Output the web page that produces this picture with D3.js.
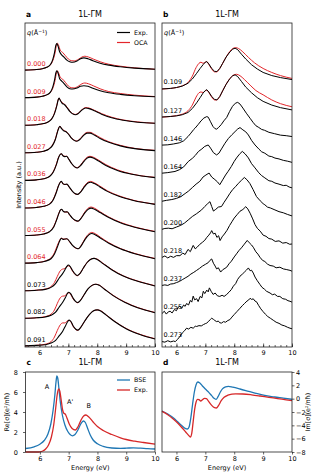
<!DOCTYPE html>
<html>
<head>
<meta charset="utf-8">
<script src="https://cdn.jsdelivr.net/npm/d3@7"></script>
<style>
  body { margin: 0; background: #fff; }
  text { font-family: "DejaVu Sans", sans-serif; fill: #000; }
</style>
</head>
<body>
<svg id="fig" width="317" height="476"></svg>
<script>
// ---- panel a : q labels, experiment and OCA spectra (offset units, 1 = one step) ----
const qA = ['0.000', '0.009', '0.018', '0.027', '0.036', '0.046', '0.055', '0.064', '0.073', '0.082', '0.091'];
const qARed = [true, true, true, true, true, true, true, true, false, false, false];

const expA = [
  [[5.5,0],[5.9,0.02],[6.1,0.05],[6.25,0.1],[6.38,0.2],[6.46,0.38],[6.52,0.62],[6.57,0.9],[6.6,0.96],[6.64,0.88],[6.7,0.66],[6.76,0.56],[6.85,0.47],[6.95,0.36],[7.05,0.3],[7.15,0.28],[7.3,0.33],[7.42,0.41],[7.54,0.44],[7.68,0.41],[7.85,0.34],[8.1,0.25],[8.4,0.18],[8.8,0.12],[9.3,0.07],[10,0.03]],
  [[5.5,0],[5.9,0.02],[6.1,0.05],[6.25,0.1],[6.38,0.2],[6.46,0.38],[6.52,0.62],[6.57,0.9],[6.6,0.97],[6.64,0.9],[6.7,0.68],[6.77,0.6],[6.86,0.5],[6.96,0.38],[7.05,0.32],[7.15,0.31],[7.3,0.35],[7.42,0.41],[7.54,0.43],[7.68,0.41],[7.85,0.34],[8.1,0.25],[8.4,0.18],[8.8,0.12],[9.3,0.07],[10,0.03]],
  [[5.5,0],[5.9,0.02],[6.15,0.06],[6.3,0.12],[6.42,0.22],[6.52,0.42],[6.6,0.7],[6.65,0.92],[6.68,0.98],[6.72,0.9],[6.78,0.8],[6.87,0.74],[6.95,0.64],[7.05,0.5],[7.15,0.41],[7.25,0.38],[7.35,0.43],[7.47,0.55],[7.6,0.62],[7.72,0.6],[7.9,0.52],[8.15,0.4],[8.5,0.27],[8.9,0.18],[9.4,0.11],[10,0.07]],
  [[5.5,0],[5.9,0.02],[6.15,0.06],[6.32,0.13],[6.45,0.26],[6.55,0.48],[6.62,0.74],[6.67,0.9],[6.71,0.96],[6.76,0.88],[6.83,0.8],[6.92,0.76],[7.0,0.68],[7.1,0.54],[7.2,0.45],[7.29,0.42],[7.4,0.48],[7.52,0.62],[7.65,0.71],[7.75,0.71],[7.9,0.64],[8.1,0.52],[8.4,0.38],[8.8,0.25],[9.3,0.15],[10,0.08]],
  [[5.5,0],[5.9,0.02],[6.15,0.06],[6.35,0.14],[6.48,0.3],[6.58,0.55],[6.66,0.82],[6.72,0.94],[6.76,0.96],[6.82,0.88],[6.88,0.86],[6.94,0.87],[7.02,0.76],[7.12,0.6],[7.22,0.49],[7.31,0.45],[7.42,0.53],[7.55,0.7],[7.67,0.82],[7.75,0.84],[7.88,0.8],[8.05,0.7],[8.3,0.54],[8.7,0.36],[9.2,0.22],[10,0.1]],
  [[5.5,0],[5.9,0.02],[6.15,0.06],[6.35,0.14],[6.48,0.3],[6.58,0.55],[6.66,0.8],[6.72,0.93],[6.76,0.96],[6.82,0.87],[6.88,0.85],[6.95,0.86],[7.03,0.76],[7.13,0.62],[7.23,0.52],[7.32,0.49],[7.43,0.58],[7.56,0.77],[7.68,0.9],[7.77,0.93],[7.9,0.88],[8.08,0.77],[8.35,0.6],[8.75,0.42],[9.25,0.27],[10,0.13]],
  [[5.5,0],[5.9,0.02],[6.15,0.06],[6.35,0.14],[6.5,0.32],[6.6,0.58],[6.68,0.82],[6.73,0.93],[6.77,0.95],[6.83,0.87],[6.89,0.85],[6.96,0.86],[7.04,0.76],[7.14,0.63],[7.24,0.55],[7.33,0.52],[7.44,0.62],[7.57,0.82],[7.7,0.96],[7.79,0.99],[7.92,0.94],[8.1,0.83],[8.4,0.65],[8.8,0.46],[9.3,0.3],[10,0.14]],
  [[5.5,0],[5.9,0.02],[6.2,0.07],[6.4,0.16],[6.52,0.33],[6.62,0.58],[6.7,0.8],[6.76,0.9],[6.82,0.86],[6.88,0.87],[6.95,0.88],[7.03,0.8],[7.13,0.66],[7.24,0.56],[7.34,0.52],[7.45,0.63],[7.58,0.86],[7.72,1.03],[7.81,1.07],[7.94,1.02],[8.12,0.9],[8.4,0.72],[8.8,0.52],[9.3,0.34],[10,0.16]],
  [[5.5,0],[5.9,0.02],[6.2,0.05],[6.4,0.12],[6.55,0.25],[6.68,0.45],[6.79,0.6],[6.88,0.75],[6.95,0.88],[7.0,0.93],[7.06,0.88],[7.15,0.72],[7.24,0.6],[7.31,0.55],[7.4,0.62],[7.52,0.82],[7.65,1.02],[7.78,1.14],[7.89,1.17],[8.0,1.13],[8.2,0.98],[8.5,0.76],[8.9,0.53],[9.4,0.34],[10,0.17]],
  [[5.5,0],[5.9,0.02],[6.2,0.05],[6.4,0.11],[6.56,0.22],[6.68,0.4],[6.8,0.57],[6.9,0.75],[6.97,0.9],[7.02,0.94],[7.08,0.89],[7.17,0.72],[7.25,0.61],[7.32,0.57],[7.42,0.65],[7.55,0.86],[7.68,1.06],[7.82,1.19],[7.95,1.23],[8.07,1.19],[8.25,1.05],[8.55,0.82],[8.95,0.58],[9.4,0.38],[10,0.2]],
  [[5.5,0],[5.9,0.02],[6.2,0.04],[6.4,0.1],[6.56,0.2],[6.68,0.36],[6.8,0.52],[6.9,0.72],[6.98,0.88],[7.03,0.93],[7.09,0.88],[7.18,0.7],[7.26,0.6],[7.33,0.57],[7.43,0.67],[7.57,0.9],[7.72,1.12],[7.86,1.26],[8.0,1.3],[8.12,1.26],[8.3,1.12],[8.6,0.88],[9.0,0.62],[9.5,0.4],[10,0.25]]
];

const ocaA = [
  [[5.5,0],[5.9,0.02],[6.1,0.05],[6.25,0.1],[6.38,0.19],[6.47,0.36],[6.54,0.62],[6.59,0.9],[6.62,0.97],[6.66,0.9],[6.72,0.72],[6.8,0.64],[6.9,0.52],[7.0,0.4],[7.1,0.34],[7.2,0.33],[7.35,0.39],[7.47,0.47],[7.57,0.5],[7.7,0.47],[7.88,0.39],[8.1,0.3],[8.4,0.21],[8.8,0.14],[9.3,0.08],[10,0.03]],
  [[5.5,0],[5.9,0.02],[6.1,0.05],[6.25,0.1],[6.38,0.19],[6.47,0.36],[6.54,0.62],[6.59,0.9],[6.62,0.97],[6.66,0.9],[6.72,0.74],[6.8,0.67],[6.9,0.55],[7.0,0.42],[7.1,0.36],[7.2,0.35],[7.35,0.42],[7.47,0.5],[7.57,0.53],[7.7,0.5],[7.88,0.42],[8.1,0.32],[8.4,0.22],[8.8,0.15],[9.3,0.09],[10,0.04]],
  [[5.5,0],[5.9,0.02],[6.15,0.06],[6.3,0.12],[6.42,0.23],[6.52,0.44],[6.6,0.72],[6.65,0.93],[6.68,0.98],[6.72,0.91],[6.78,0.82],[6.87,0.76],[6.95,0.66],[7.05,0.52],[7.15,0.42],[7.25,0.39],[7.35,0.44],[7.47,0.56],[7.6,0.64],[7.72,0.62],[7.9,0.54],[8.15,0.42],[8.5,0.29],[8.9,0.19],[9.4,0.12],[10,0.07]],
  [[5.5,0],[5.9,0.02],[6.15,0.06],[6.32,0.14],[6.45,0.28],[6.55,0.5],[6.62,0.76],[6.67,0.91],[6.71,0.96],[6.76,0.89],[6.83,0.82],[6.92,0.77],[7.0,0.69],[7.1,0.55],[7.2,0.46],[7.29,0.43],[7.4,0.5],[7.52,0.64],[7.65,0.74],[7.75,0.74],[7.9,0.67],[8.1,0.55],[8.4,0.4],[8.8,0.27],[9.3,0.16],[10,0.09]],
  [[5.5,0],[5.9,0.02],[6.15,0.06],[6.35,0.15],[6.48,0.32],[6.58,0.57],[6.66,0.83],[6.72,0.94],[6.76,0.96],[6.82,0.89],[6.88,0.87],[6.94,0.87],[7.02,0.76],[7.12,0.6],[7.22,0.49],[7.31,0.46],[7.42,0.55],[7.55,0.73],[7.67,0.85],[7.75,0.87],[7.88,0.83],[8.05,0.73],[8.3,0.57],[8.7,0.38],[9.2,0.23],[10,0.11]],
  [[5.5,0],[5.9,0.02],[6.15,0.06],[6.35,0.15],[6.48,0.32],[6.58,0.57],[6.66,0.81],[6.72,0.93],[6.76,0.95],[6.82,0.87],[6.88,0.85],[6.95,0.85],[7.03,0.75],[7.13,0.61],[7.23,0.51],[7.32,0.49],[7.43,0.59],[7.56,0.8],[7.68,0.93],[7.77,0.96],[7.9,0.91],[8.08,0.8],[8.35,0.62],[8.75,0.44],[9.25,0.28],[10,0.14]],
  [[5.5,0],[5.9,0.02],[6.15,0.06],[6.35,0.15],[6.5,0.34],[6.6,0.6],[6.68,0.83],[6.73,0.93],[6.77,0.94],[6.83,0.87],[6.89,0.85],[6.96,0.85],[7.04,0.75],[7.14,0.62],[7.24,0.54],[7.33,0.52],[7.44,0.63],[7.57,0.85],[7.7,1.0],[7.79,1.03],[7.92,0.98],[8.1,0.86],[8.4,0.67],[8.8,0.48],[9.3,0.31],[10,0.15]],
  [[5.5,0],[5.9,0.02],[6.2,0.08],[6.4,0.19],[6.52,0.38],[6.62,0.64],[6.7,0.83],[6.76,0.9],[6.82,0.87],[6.88,0.87],[6.95,0.88],[7.03,0.79],[7.13,0.65],[7.24,0.55],[7.34,0.52],[7.45,0.65],[7.58,0.89],[7.72,1.07],[7.81,1.11],[7.94,1.06],[8.12,0.93],[8.4,0.74],[8.8,0.53],[9.3,0.35],[10,0.17]],
  [[5.5,0],[5.9,0.02],[6.2,0.06],[6.4,0.15],[6.52,0.3],[6.62,0.52],[6.72,0.72],[6.8,0.78],[6.88,0.8],[6.95,0.88],[7.0,0.9],[7.06,0.86],[7.15,0.7],[7.24,0.58],[7.31,0.54],[7.4,0.62],[7.52,0.82],[7.65,1.02],[7.78,1.14],[7.89,1.17],[8.0,1.14],[8.2,0.99],[8.5,0.77],[8.9,0.54],[9.4,0.35],[10,0.18]],
  [[5.5,0],[5.9,0.02],[6.2,0.06],[6.4,0.15],[6.52,0.3],[6.62,0.54],[6.72,0.74],[6.8,0.8],[6.88,0.81],[6.96,0.9],[7.01,0.92],[7.07,0.88],[7.16,0.71],[7.25,0.6],[7.32,0.56],[7.42,0.65],[7.55,0.86],[7.68,1.06],[7.82,1.19],[7.95,1.23],[8.07,1.2],[8.25,1.06],[8.55,0.83],[8.95,0.59],[9.4,0.39],[10,0.21]],
  [[5.5,0],[5.9,0.02],[6.2,0.06],[6.4,0.15],[6.52,0.32],[6.62,0.56],[6.72,0.76],[6.8,0.83],[6.88,0.83],[6.96,0.9],[7.02,0.92],[7.08,0.88],[7.17,0.7],[7.26,0.59],[7.33,0.56],[7.43,0.67],[7.57,0.9],[7.72,1.12],[7.86,1.26],[8.0,1.3],[8.12,1.27],[8.3,1.13],[8.6,0.89],[9.0,0.63],[9.5,0.41],[10,0.26]]
];

// ---- panel b ----
const qB = ['0.109', '0.127', '0.146', '0.164', '0.182', '0.200', '0.218', '0.237', '0.255', '0.273'];

const expB = [
  [[5.5,0],[5.8,0.02],[6.0,0.05],[6.2,0.1],[6.4,0.2],[6.55,0.35],[6.7,0.55],[6.82,0.72],[6.92,0.85],[7.0,0.94],[7.05,0.96],[7.12,0.88],[7.22,0.72],[7.32,0.62],[7.4,0.61],[7.5,0.72],[7.6,0.9],[7.72,1.12],[7.85,1.3],[7.95,1.4],[8.03,1.43],[8.12,1.38],[8.25,1.22],[8.4,1.05],[8.6,0.85],[8.8,0.7],[9.0,0.58],[9.3,0.47],[9.6,0.4],[10,0.33]],
  [[5.5,0],[5.8,0.02],[6.0,0.04],[6.2,0.08],[6.4,0.16],[6.55,0.3],[6.7,0.5],[6.82,0.68],[6.92,0.84],[7.0,0.93],[7.05,0.96],[7.12,0.88],[7.22,0.72],[7.32,0.62],[7.4,0.6],[7.5,0.72],[7.6,0.92],[7.72,1.15],[7.85,1.35],[7.95,1.45],[8.03,1.48],[8.12,1.42],[8.25,1.25],[8.4,1.05],[8.6,0.85],[8.8,0.68],[9.0,0.55],[9.3,0.42],[9.6,0.33],[10,0.25]],
  [[5.5,0],[5.7,0.01],[5.9,0.04],[6.1,0.08],[6.25,0.15],[6.4,0.3],[6.5,0.42],[6.6,0.55],[6.65,0.6],[6.75,0.72],[6.85,0.85],[6.95,0.95],[7.05,1.0],[7.1,0.98],[7.18,0.82],[7.26,0.66],[7.33,0.58],[7.39,0.56],[7.46,0.62],[7.55,0.72],[7.64,0.85],[7.74,0.97],[7.84,1.18],[7.94,1.36],[8.04,1.47],[8.12,1.5],[8.2,1.44],[8.3,1.3],[8.42,1.12],[8.55,0.94],[8.65,0.8],[8.75,0.68],[8.85,0.62],[8.95,0.55],[9.05,0.52],[9.2,0.45],[9.4,0.4],[9.6,0.35],[9.8,0.33],[10,0.3]],
  [[5.5,0],[5.7,0.02],[5.95,0.06],[6.1,0.12],[6.25,0.22],[6.41,0.41],[6.55,0.52],[6.65,0.62],[6.76,0.76],[6.88,0.85],[6.98,0.94],[7.1,0.99],[7.18,0.88],[7.28,0.72],[7.39,0.64],[7.47,0.7],[7.56,0.85],[7.68,1.05],[7.8,1.22],[7.92,1.35],[8.03,1.46],[8.12,1.55],[8.2,1.6],[8.3,1.52],[8.4,1.45],[8.49,1.34],[8.6,1.15],[8.72,0.99],[8.85,0.85],[8.95,0.75],[9.06,0.7],[9.2,0.6],[9.3,0.58],[9.41,0.53],[9.55,0.5],[9.7,0.45],[9.85,0.42],[10,0.38]],
  [[5.5,0],[5.65,0.03],[5.84,0.06],[6.0,0.1],[6.15,0.16],[6.3,0.27],[6.41,0.35],[6.55,0.48],[6.68,0.6],[6.81,0.7],[6.92,0.85],[7.02,0.92],[7.13,0.99],[7.22,0.85],[7.33,0.76],[7.42,0.68],[7.5,0.58],[7.6,0.75],[7.7,0.92],[7.79,1.05],[7.9,1.22],[8.0,1.4],[8.08,1.52],[8.18,1.65],[8.28,1.75],[8.38,1.66],[8.49,1.52],[8.6,1.32],[8.72,1.17],[8.85,1.0],[8.95,0.9],[9.06,0.82],[9.2,0.72],[9.3,0.7],[9.41,0.64],[9.55,0.6],[9.7,0.55],[9.8,0.56],[9.9,0.5],[10,0.47]],
  [[5.5,0],[5.6,0.03],[5.72,0.04],[5.85,0.02],[6.0,0.08],[6.15,0.14],[6.28,0.22],[6.41,0.33],[6.55,0.45],[6.7,0.55],[6.87,0.68],[6.98,0.8],[7.08,0.9],[7.16,0.97],[7.22,0.8],[7.28,0.64],[7.36,0.7],[7.45,0.78],[7.56,0.8],[7.65,0.95],[7.75,1.1],[7.85,1.26],[7.95,1.4],[8.05,1.5],[8.14,1.61],[8.25,1.72],[8.35,1.82],[8.44,1.74],[8.54,1.61],[8.65,1.4],[8.77,1.15],[8.9,1.0],[9.0,0.9],[9.06,0.86],[9.15,0.78],[9.25,0.75],[9.41,0.68],[9.55,0.62],[9.7,0.58],[9.85,0.52],[10,0.47]],
  [[5.5,0],[5.6,0.05],[5.7,-0.02],[5.8,0.04],[5.9,0.0],[6.0,0.06],[6.12,0.06],[6.22,0.15],[6.3,0.1],[6.4,0.28],[6.48,0.2],[6.58,0.42],[6.65,0.3],[6.72,0.36],[6.8,0.45],[6.9,0.53],[6.98,0.6],[7.05,0.7],[7.12,0.78],[7.18,0.86],[7.22,0.94],[7.28,0.82],[7.34,0.85],[7.4,0.7],[7.46,0.76],[7.51,0.59],[7.58,0.72],[7.66,0.82],[7.75,0.95],[7.84,1.12],[7.92,1.25],[8.0,1.38],[8.1,1.5],[8.2,1.62],[8.3,1.68],[8.4,1.78],[8.47,1.7],[8.55,1.55],[8.64,1.35],[8.72,1.15],[8.8,1.02],[8.9,0.92],[9.0,0.78],[9.1,0.74],[9.2,0.66],[9.3,0.64],[9.42,0.56],[9.55,0.58],[9.68,0.5],[9.8,0.52],[9.92,0.46],[10,0.47]],
  [[5.5,0],[5.6,0.02],[5.7,0.0],[5.8,0.05],[5.89,0.06],[6.0,0.1],[6.1,0.14],[6.2,0.2],[6.3,0.26],[6.4,0.32],[6.5,0.4],[6.6,0.46],[6.7,0.53],[6.8,0.6],[6.9,0.68],[7.0,0.74],[7.1,0.8],[7.16,0.88],[7.22,0.93],[7.28,0.78],[7.34,0.68],[7.39,0.58],[7.45,0.62],[7.53,0.47],[7.6,0.55],[7.68,0.6],[7.74,0.64],[7.82,0.76],[7.9,0.85],[8.0,1.0],[8.08,1.11],[8.16,1.22],[8.25,1.32],[8.35,1.45],[8.45,1.58],[8.52,1.5],[8.6,1.42],[8.66,1.34],[8.75,1.18],[8.82,1.1],[8.89,0.99],[8.98,0.88],[9.06,0.84],[9.15,0.75],[9.24,0.7],[9.35,0.68],[9.45,0.62],[9.58,0.64],[9.7,0.58],[9.8,0.56],[9.93,0.53],[10,0.5]],
  [[5.5,0],[5.58,0.08],[5.65,-0.02],[5.72,0.06],[5.78,0.08],[5.85,0.02],[5.93,0.14],[6.0,0.1],[6.06,0.22],[6.12,0.26],[6.18,0.18],[6.25,0.3],[6.3,0.25],[6.35,0.35],[6.42,0.3],[6.48,0.46],[6.53,0.4],[6.58,0.61],[6.63,0.48],[6.7,0.52],[6.75,0.42],[6.82,0.6],[6.88,0.55],[6.93,0.78],[6.98,0.7],[7.05,0.82],[7.1,0.76],[7.14,0.9],[7.2,0.78],[7.27,0.67],[7.34,0.72],[7.42,0.62],[7.5,0.6],[7.58,0.64],[7.65,0.6],[7.74,0.67],[7.82,0.75],[7.9,0.84],[7.97,0.96],[8.05,1.05],[8.12,1.2],[8.2,1.31],[8.28,1.38],[8.35,1.45],[8.42,1.52],[8.49,1.6],[8.55,1.5],[8.6,1.52],[8.66,1.42],[8.72,1.28],[8.8,1.15],[8.89,1.02],[8.96,0.92],[9.05,0.85],[9.12,0.78],[9.24,0.72],[9.32,0.66],[9.4,0.68],[9.5,0.6],[9.58,0.6],[9.68,0.52],[9.78,0.5],[9.86,0.45],[9.93,0.43],[10,0.4]],
  [[5.5,0],[5.6,-0.02],[5.7,0.03],[5.8,-0.01],[5.9,0.02],[5.96,0.0],[6.04,0.08],[6.12,0.18],[6.2,0.3],[6.28,0.38],[6.35,0.47],[6.42,0.44],[6.5,0.5],[6.58,0.47],[6.65,0.54],[6.7,0.53],[6.78,0.56],[6.86,0.55],[6.94,0.6],[7.0,0.63],[7.05,0.65],[7.12,0.72],[7.18,0.78],[7.22,0.82],[7.28,0.78],[7.33,0.74],[7.39,0.7],[7.45,0.72],[7.5,0.66],[7.56,0.65],[7.63,0.7],[7.7,0.68],[7.78,0.74],[7.85,0.77],[7.92,0.86],[8.0,0.95],[8.1,1.06],[8.2,1.17],[8.28,1.26],[8.36,1.34],[8.44,1.42],[8.5,1.46],[8.55,1.52],[8.6,1.48],[8.66,1.5],[8.72,1.42],[8.77,1.4],[8.85,1.26],[8.92,1.15],[9.0,1.05],[9.08,0.96],[9.16,0.88],[9.25,0.82],[9.35,0.75],[9.45,0.68],[9.55,0.64],[9.65,0.58],[9.75,0.55],[9.85,0.5],[9.93,0.47],[10,0.45]]
];

const ocaB = [
  [[5.5,0],[5.8,0.02],[6.0,0.05],[6.2,0.11],[6.4,0.23],[6.55,0.45],[6.68,0.75],[6.78,0.9],[6.85,0.94],[6.92,0.9],[7.0,0.94],[7.05,0.96],[7.12,0.86],[7.22,0.7],[7.32,0.6],[7.4,0.6],[7.5,0.72],[7.6,0.9],[7.72,1.12],[7.85,1.32],[7.95,1.42],[8.05,1.45],[8.15,1.42],[8.3,1.3],[8.5,1.1],[8.7,0.92],[9.0,0.72],[9.3,0.58],[9.6,0.47],[10,0.37]],
  [[5.5,0],[5.8,0.02],[6.0,0.05],[6.2,0.1],[6.4,0.22],[6.55,0.42],[6.68,0.7],[6.78,0.85],[6.85,0.88],[6.92,0.86],[7.0,0.92],[7.05,0.94],[7.12,0.86],[7.22,0.7],[7.32,0.6],[7.4,0.6],[7.5,0.72],[7.6,0.92],[7.72,1.15],[7.85,1.35],[7.97,1.47],[8.08,1.5],[8.2,1.45],[8.35,1.32],[8.55,1.12],[8.75,0.93],[9.0,0.78],[9.3,0.6],[9.6,0.47],[10,0.36]]
];

// ---- panels c, d : conductivity (e^2/pi hbar) ----
const bseRe = [[5.5,0.35],[5.8,0.52],[6.0,0.78],[6.15,1.15],[6.28,1.8],[6.38,2.8],[6.46,4.2],[6.52,5.7],[6.56,7.0],[6.59,7.6],[6.62,7.4],[6.66,6.4],[6.71,5.0],[6.78,3.7],[6.87,2.7],[6.97,2.05],[7.06,1.72],[7.13,1.62],[7.22,1.75],[7.32,2.2],[7.42,2.8],[7.51,3.1],[7.58,2.95],[7.66,2.35],[7.75,1.7],[7.85,1.2],[8.0,0.82],[8.2,0.56],[8.5,0.4],[8.8,0.36],[9.0,0.38],[9.25,0.42],[9.5,0.38],[9.75,0.33],[10,0.3]];
const expRe = [[5.5,0],[5.9,0],[6.0,0.02],[6.1,0.1],[6.2,0.3],[6.3,0.7],[6.4,1.5],[6.48,2.7],[6.55,4.4],[6.6,5.7],[6.65,6.3],[6.69,6.1],[6.74,5.2],[6.79,4.2],[6.84,3.85],[6.88,3.8],[6.94,3.4],[7.02,2.8],[7.12,2.35],[7.23,2.2],[7.33,2.55],[7.43,3.2],[7.52,3.6],[7.6,3.7],[7.7,3.5],[7.85,3.0],[8.0,2.55],[8.2,2.15],[8.5,1.75],[8.8,1.42],[9.0,1.25],[9.3,1.08],[9.6,0.95],[10,0.78]];
const bseIm = [[5.5,-1.85],[5.7,-2.3],[5.9,-2.9],[6.05,-3.5],[6.2,-4.1],[6.3,-4.45],[6.38,-4.55],[6.44,-4.2],[6.5,-2.8],[6.56,-0.8],[6.62,1.0],[6.68,2.1],[6.74,2.5],[6.8,2.4],[6.9,1.9],[7.0,1.45],[7.12,0.95],[7.22,0.45],[7.3,0.05],[7.37,-0.1],[7.44,0.3],[7.52,1.0],[7.6,1.5],[7.7,1.78],[7.8,1.85],[7.95,1.72],[8.2,1.45],[8.5,1.1],[8.8,0.75],[9.1,0.45],[9.4,0.25],[9.7,0.08],[10,-0.1]];
const expIm = [[5.5,-1.9],[5.7,-2.4],[5.9,-3.1],[6.05,-3.7],[6.2,-4.4],[6.32,-5.0],[6.42,-5.5],[6.48,-5.75],[6.53,-5.2],[6.58,-3.4],[6.63,-1.6],[6.68,-0.5],[6.73,-0.1],[6.78,-0.15],[6.84,-0.35],[6.9,-0.15],[6.97,0.05],[7.04,0.0],[7.12,-0.45],[7.22,-1.0],[7.32,-1.35],[7.38,-1.4],[7.46,-1.0],[7.55,-0.3],[7.65,0.2],[7.78,0.52],[7.92,0.68],[8.05,0.72],[8.3,0.7],[8.6,0.58],[8.9,0.4],[9.2,0.2],[9.5,0.02],[9.8,-0.18],[10,-0.3]];

const peakLabels = [{ t: 'A', e: 6.25, v: 6.3 }, { t: "A'", e: 7.05, v: 4.8 }, { t: 'B', e: 7.7, v: 4.4 }];
const energyTicks = [6, 7, 8, 9, 10];
const minorTicks = d3.range(23).map((i) => 5.6 + i * 0.2);

const RED = '#e3262b';
const BLUE = '#1f77b4';
const RED_C = '#d62728';

const svg = d3.select('#fig');

const xA = d3.scaleLinear([5.5, 10], [25, 155]);
const yA = d3.scaleLinear([0, 11.7], [347, 23]);
const xB = d3.scaleLinear([5.5, 10], [162, 292]);
const yB = d3.scaleLinear([0, 11.37], [347, 23]);
const xC = d3.scaleLinear([5.5, 10], [25.5, 155]);
const yC = d3.scaleLinear([0, 8], [452, 372]);
const xD = d3.scaleLinear([5.5, 10], [162, 292]);
const yD = d3.scaleLinear([-8, 4], [452, 372]);

const frame = (x, y) => {
  const [x0, x1] = x.range();
  const [y1, y0] = y.range();
  svg.append('rect').attr('x', x0).attr('y', y0).attr('width', x1 - x0).attr('height', y1 - y0)
    .attr('fill', 'none').attr('stroke', '#222').attr('stroke-width', 0.8);
};

const styleAxis = (g, size) => {
  g.select('.domain').remove();
  g.selectAll('line').attr('stroke', '#222').attr('stroke-width', 0.7);
  g.selectAll('text').attr('font-size', size).attr('font-family', 'DejaVu Sans');
};

const insideAxis = (x, y) => {
  const yPos = y.range()[0];
  svg.append('g').attr('transform', `translate(0,${yPos})`)
    .call(d3.axisBottom(x).tickValues(minorTicks).tickSize(-2).tickFormat(''))
    .call((g) => styleAxis(g, 6.5));
  svg.append('g').attr('transform', `translate(0,${yPos})`)
    .call(d3.axisBottom(x).tickValues(energyTicks).tickSize(-3.5).tickPadding(3).tickFormat(d3.format('d')))
    .call((g) => styleAxis(g, 6.5));
};

const title = (x, letter, yPos) => {
  const [x0, x1] = x.range();
  svg.append('text').attr('x', x0 + 1).attr('y', yPos).attr('font-size', 7.5).attr('font-weight', 'bold').text(letter);
  svg.append('text').attr('x', (x0 + x1) / 2).attr('y', yPos).attr('font-size', 8).attr('text-anchor', 'middle').text('1L-ΓM');
};

const qHeader = (x) => {
  const t = svg.append('text').attr('x', x.range()[0] + 2).attr('y', 35).attr('font-size', 6.5);
  t.append('tspan').attr('font-style', 'italic').text('q');
  t.append('tspan').text('(Å');
  t.append('tspan').attr('font-size', 4.5).attr('dy', -2.5).text('−1');
  t.append('tspan').attr('dy', 2.5).text(')');
};

const stack = (x, y, curves, offsetOf, color, width, curve) => {
  curves.forEach((pts, i) => {
    const off = offsetOf(i);
    const line = d3.line().x((d) => x(d[0])).y((d) => y(d[1] + off)).curve(curve);
    svg.append('path').attr('d', line(pts)).attr('fill', 'none')
      .attr('stroke', color).attr('stroke-width', width).attr('stroke-linejoin', 'round');
  });
};

// ---- panel a ----
const offA = (i) => 0.04 + (qA.length - 1 - i) * 0.996;
stack(xA, yA, ocaA, offA, RED, 1.0, d3.curveMonotoneX);
stack(xA, yA, expA, offA, '#000', 1.1, d3.curveMonotoneX);
qA.forEach((q, i) => {
  svg.append('text').attr('x', xA.range()[0] + 2).attr('y', yA(offA(i)) - 4)
    .attr('font-size', 6.5).style('fill', qARed[i] ? RED : '#000').text(q);
});
frame(xA, yA);
insideAxis(xA, yA);
title(xA, 'a', 17);
qHeader(xA);
const legA = [{ t: 'Exp.', c: '#000' }, { t: 'OCA', c: RED }];
legA.forEach((d, i) => {
  const ly = 32.5 + i * 10;
  svg.append('line').attr('x1', 117).attr('x2', 130).attr('y1', ly).attr('y2', ly).attr('stroke', d.c).attr('stroke-width', 1.2);
  svg.append('text').attr('x', 134).attr('y', ly + 2.3).attr('font-size', 6.3).text(d.t);
});
svg.append('text').attr('transform', 'translate(21,185) rotate(-90)').attr('text-anchor', 'middle')
  .attr('font-size', 6.5).text('Intensity (a.u.)');

// ---- panel b ----
const offB = (i) => 0.19 + (qB.length - 1 - i) * 0.985;
stack(xB, yB, ocaB, offB, RED, 1.0, d3.curveMonotoneX);
stack(xB, yB, expB, offB, '#000', 1.0, d3.curveLinear);
qB.forEach((q, i) => {
  svg.append('text').attr('x', xB.range()[0] + 1.5).attr('y', yB(offB(i)) - 4.5)
    .attr('font-size', 6.5).text(q);
});
frame(xB, yB);
insideAxis(xB, yB);
title(xB, 'b', 17);
qHeader(xB);

// ---- panel c ----
const lineC = d3.line().x((d) => xC(d[0])).y((d) => yC(d[1])).curve(d3.curveMonotoneX);
svg.append('path').attr('d', lineC(bseRe)).attr('fill', 'none').attr('stroke', BLUE).attr('stroke-width', 1.3);
svg.append('path').attr('d', lineC(expRe)).attr('fill', 'none').attr('stroke', RED_C).attr('stroke-width', 1.3);
frame(xC, yC);
svg.append('g').attr('transform', 'translate(0,452)')
  .call(d3.axisBottom(xC).tickValues(energyTicks).tickSize(2.5).tickPadding(2).tickFormat(d3.format('d')))
  .call((g) => styleAxis(g, 6.5));
svg.append('g').attr('transform', `translate(${xC.range()[0]},0)`)
  .call(d3.axisLeft(yC).tickValues([0, 2, 4, 6, 8]).tickSize(2.5).tickPadding(5).tickFormat(d3.format('d')))
  .call((g) => styleAxis(g, 6.5));
title(xC, 'c', 365);
peakLabels.forEach((p) => {
  svg.append('text').attr('x', xC(p.e)).attr('y', yC(p.v)).attr('text-anchor', 'middle').attr('font-size', 6.5).text(p.t);
});
const legC = [{ t: 'BSE', c: BLUE }, { t: 'Exp.', c: RED_C }];
legC.forEach((d, i) => {
  const ly = 380 + i * 10;
  svg.append('line').attr('x1', 117).attr('x2', 130).attr('y1', ly).attr('y2', ly).attr('stroke', d.c).attr('stroke-width', 1.3);
  svg.append('text').attr('x', 134).attr('y', ly + 2.3).attr('font-size', 6.3).text(d.t);
});
svg.append('text').attr('x', (xC.range()[0] + xC.range()[1]) / 2).attr('y', 470).attr('text-anchor', 'middle')
  .attr('font-size', 6.5).text('Energy (eV)');
svg.append('text').attr('transform', 'translate(9,412) rotate(-90)').attr('text-anchor', 'middle')
  .attr('font-size', 6.3).text('Re[σ](e²/πħ)');

// ---- panel d ----
const lineD = d3.line().x((d) => xD(d[0])).y((d) => yD(d[1])).curve(d3.curveMonotoneX);
svg.append('path').attr('d', lineD(bseIm)).attr('fill', 'none').attr('stroke', BLUE).attr('stroke-width', 1.3);
svg.append('path').attr('d', lineD(expIm)).attr('fill', 'none').attr('stroke', RED_C).attr('stroke-width', 1.3);
frame(xD, yD);
svg.append('g').attr('transform', 'translate(0,452)')
  .call(d3.axisBottom(xD).tickValues(energyTicks).tickSize(2.5).tickPadding(2).tickFormat(d3.format('d')))
  .call((g) => styleAxis(g, 6.5));
svg.append('g').attr('transform', `translate(${xD.range()[1]},0)`)
  .call(d3.axisRight(yD).tickValues([-8, -6, -4, -2, 0, 2, 4]).tickSize(2.5).tickPadding(1.5).tickFormat(d3.format('d')))
  .call((g) => styleAxis(g, 6.5));
title(xD, 'd', 365);
svg.append('text').attr('x', (xD.range()[0] + xD.range()[1]) / 2).attr('y', 470).attr('text-anchor', 'middle')
  .attr('font-size', 6.5).text('Energy (eV)');
svg.append('text').attr('transform', 'translate(310,412) rotate(-90)').attr('text-anchor', 'middle')
  .attr('font-size', 6.3).text('Im[σ](e²/πħ)');
</script>
</body>
</html>
